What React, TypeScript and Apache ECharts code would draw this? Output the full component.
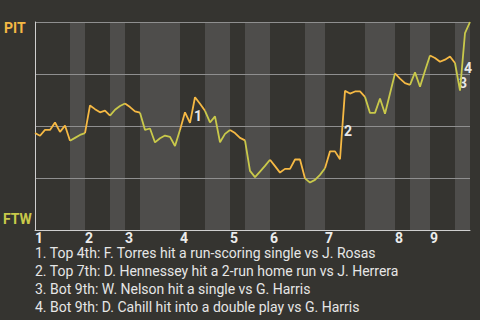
import React, { useEffect, useRef } from "react";
import * as echarts from "echarts";

// PIT win probability (%) after each plate appearance
const winProb: number[] = [
  46.6, 45.3, 48.1, 48.1, 51.7, 47.2, 50.2, 42.9, 44.3, 45.7,
  46.6, 59.9, 58.1, 56.6, 57.4, 55.0, 57.8, 59.6, 60.8, 59.1,
  57.0, 56.4, 48.1, 48.8, 42.1, 44.1, 45.4, 44.8, 40.4, 48.1,
  56.6, 51.5, 63.8, 60.7, 57.3, 51.7, 54.6, 42.2, 46.2, 48.1,
  46.6, 44.3, 43.1, 28.4, 25.4, 28.1, 30.8, 33.8, 30.7, 27.6,
  29.4, 29.4, 33.9, 33.9, 24.8, 22.8, 24.1, 26.5, 29.7, 37.8,
  37.8, 34.0, 66.9, 65.6, 66.6, 66.6, 64.0, 56.3, 56.3, 63.2,
  55.9, 65.6, 75.3, 72.8, 70.6, 69.8, 75.8, 68.9, 76.6, 83.9,
  82.7, 80.9, 81.9, 83.4, 80.3, 67.0, 94.7, 100,
];

// play index at which each inning (top half) starts
const inningStarts: number[] = [0, 10, 18, 29, 39, 47, 58, 72, 79];
// play index at which each bottom half starts
const bottomStarts: number[] = [7, 15, 21, 34, 42, 54, 66, 75, 84];
const inningLabels: string[] = ["1", "2", "3", "4", "5", "6", "7", "8", "9"];

// key plays: the play index that ends the segment
const eventPlays: number[] = [32, 62, 85, 86];
const eventLabels: string[] = ["1", "2", "3", "4"];
const eventTexts: string[] = [
  "1. Top 4th: F. Torres hit a run-scoring single vs J. Rosas",
  "2. Top 7th: D. Hennessey hit a 2-run home run vs J. Herrera",
  "3. Bot 9th: W. Nelson hit a single vs G. Harris",
  "4. Bot 9th: D. Cahill hit into a double play vs G. Harris",
];

const homeTeam = "FTW";
const awayTeam = "PIT";

const ORANGE = "#f6b944";
const YELLOW = "#c9c94a";
const BG = "#353430";
const BAND = "#4e4d4b";
const FONT = "Roboto, 'Noto Sans', sans-serif";

export default function App() {
  const ref = useRef<HTMLDivElement>(null);

  useEffect(() => {
    if (!ref.current) return;
    const chart = echarts.init(ref.current, undefined, { renderer: "svg" });
    const lastIdx = winProb.length - 1;

    // half-inning segments [start, end, color]
    const halves: [number, number, string][] = [];
    inningStarts.forEach((s, i) => {
      const b = bottomStarts[i];
      const e = i + 1 < inningStarts.length ? inningStarts[i + 1] : lastIdx;
      halves.push([s, b, ORANGE]);
      halves.push([b, e, YELLOW]);
    });

    const bands = bottomStarts.map((b, i) => {
      const e = i + 1 < inningStarts.length ? inningStarts[i + 1] : lastIdx;
      return [{ xAxis: b }, { xAxis: e }];
    });

    const marks = eventPlays.map((k, i) => ({
      coord: [k - 0.5, (winProb[k - 1] + winProb[k]) / 2],
      value: eventLabels[i],
    }));

    const legendTexts = eventTexts.map((t, i) => ({
      type: "text",
      left: 35,
      top: 246 + i * 17.9,
      style: { text: t, fill: "#e6e6e6", font: `14px ${FONT}`, lineHeight: 14 },
    }));

    const lineSeries = halves.map(([s, e, c], idx) => ({
      type: "line",
      data: winProb.slice(s, e + 1).map((v, j) => [s + j, v]),
      showSymbol: false,
      symbol: "none",
      z: 5,
      silent: true,
      lineStyle: { width: 1.8, color: c },
      itemStyle: { color: c },
      ...(idx === 0
        ? {
            markPoint: {
              symbol: "circle",
              symbolSize: 0,
              silent: true,
              label: {
                show: true,
                position: "inside",
                offset: [5.5, 6],
                color: "#e8e8e8",
                fontFamily: FONT,
                fontSize: 14,
                fontWeight: "bold",
                formatter: (p: any) => p.value,
              },
              data: marks,
            },
          }
        : {}),
    }));

    chart.setOption({
      animation: false,
      backgroundColor: BG,
      grid: { left: 35, right: 10, top: 22, height: 208 },
      xAxis: {
        type: "value",
        min: 0,
        max: lastIdx,
        interval: 1,
        axisLine: { show: true, lineStyle: { color: "#cfcfcf", width: 1 } },
        axisTick: { show: false },
        splitLine: { show: false },
        axisLabel: {
          margin: 1,
          align: "left",
          color: "#ececec",
          fontFamily: FONT,
          fontSize: 14,
          lineHeight: 13,
          fontWeight: "bold",
          formatter: (v: number) => {
            const i = inningStarts.indexOf(Math.round(v));
            return i >= 0 ? inningLabels[i] : "";
          },
        },
        z: 3,
      },
      yAxis: {
        type: "value",
        min: 0,
        max: 100,
        interval: 25,
        axisLine: { show: true, lineStyle: { color: "#cfcfcf", width: 1 } },
        axisTick: { show: false },
        axisLabel: { show: false },
        splitLine: { show: true, lineStyle: { color: "#8f8f8f", width: 1 } },
        z: 3,
      },
      graphic: [
        {
          type: "text",
          left: 4,
          top: 21,
          style: { text: awayTeam, fill: ORANGE, font: `bold 14px ${FONT}` },
        },
        {
          type: "text",
          left: 3,
          top: 212,
          style: { text: homeTeam, fill: YELLOW, font: `bold 14px ${FONT}` },
        },
        ...legendTexts,
      ],
      series: [
        {
          type: "line",
          data: [],
          z: 1,
          silent: true,
          markArea: {
            silent: true,
            itemStyle: { color: BAND },
            data: bands,
          },
        },
        ...lineSeries,
      ],
    });

    return () => chart.dispose();
  }, []);

  return (
    <div
      ref={ref}
      style={{ position: "fixed", left: 0, top: 0, width: 480, height: 320 }}
    />
  );
}
